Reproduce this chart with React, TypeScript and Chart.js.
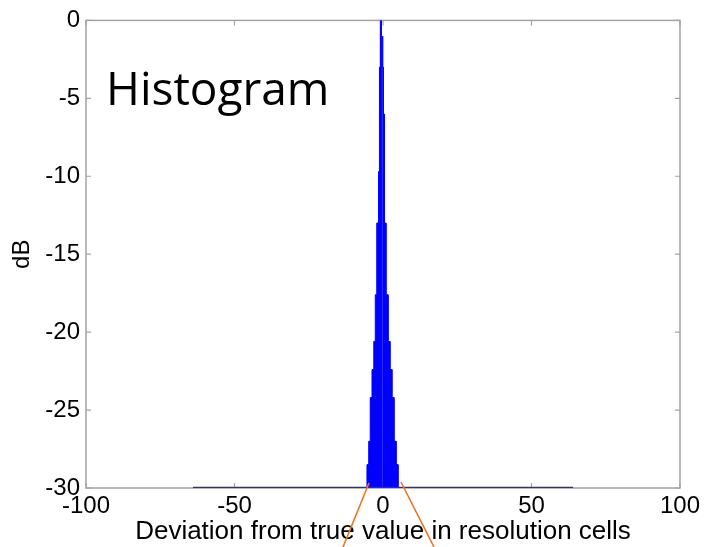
import React, { useEffect, useRef } from "react";
import { Chart, registerables } from "chart.js";

Chart.register(...registerables);

// ---- data ----
const xTicks = [-100, -50, 0, 50, 100];
const yTicks = [-30, -25, -20, -15, -10, -5, 0];

// left lobe of the histogram: bin edges (deviation) and level (dB) of each bin
const leftEdges = [-5.4, -4.8, -4.3, -3.7, -3.1, -2.6, -2.1, -1.5, -1.3, -1.15, -1.0, -0.85, -0.6];
const leftDb = [-28.5, -27, -24.2, -22.4, -20.6, -17.6, -13, -9.7, -6, -3, -1, 0];

// right lobe of the histogram
const rightEdges = [-0.2, -0.05, 0.15, 0.35, 0.6, 1.0, 1.7, 2.35, 3.0, 3.7, 4.4, 5.05];
const rightDb = [-1, -3, -6, -9.7, -13, -17.6, -20.6, -22.4, -24.2, -27, -28.5];

// floor line of the histogram (clipped values)
const floorX = [-64, 64];
const floorDb = [-30, -30];

const FLOOR = -30;
const FONT = '"Liberation Sans", Arial, sans-serif';

// outline of a histogram lobe (corners of each bin)
function lobe(edges: number[], db: number[]) {
  const pts: { x: number; y: number }[] = [{ x: edges[0], y: FLOOR }];
  db.forEach((y, i) => {
    pts.push({ x: edges[i], y });
    pts.push({ x: edges[i + 1], y });
  });
  pts.push({ x: edges[edges.length - 1], y: FLOOR });
  return pts;
}

const overlay = {
  id: "overlay",
  beforeDatasetsDraw(chart: any) {
    const { ctx, chartArea, scales } = chart;
    const { left, right, top, bottom } = chartArea;
    ctx.save();
    ctx.strokeStyle = "#a3a3a3";
    ctx.lineWidth = 1.5;
    ctx.strokeRect(left, top, right - left, bottom - top);
    ctx.lineWidth = 1.2;
    ctx.beginPath();
    xTicks.forEach((v) => {
      const x = scales.x.getPixelForValue(v);
      ctx.moveTo(x, bottom);
      ctx.lineTo(x, bottom - 5);
      ctx.moveTo(x, top);
      ctx.lineTo(x, top + 5);
    });
    yTicks.forEach((v) => {
      const y = scales.y.getPixelForValue(v);
      ctx.moveTo(left, y);
      ctx.lineTo(left + 5, y);
      ctx.moveTo(right, y);
      ctx.lineTo(right - 5, y);
    });
    ctx.stroke();
    ctx.restore();
  },
  afterDraw(chart: any) {
    const { ctx, chartArea } = chart;
    ctx.save();
    ctx.fillStyle = "#000";
    ctx.font = '46px "Open Sans", "Noto Sans", sans-serif';
    ctx.textBaseline = "alphabetic";
    ctx.textAlign = "left";
    ctx.fillText("Histogram", chartArea.left + 20, 105);
    // orange call-out lines
    ctx.strokeStyle = "#ef7420";
    ctx.lineWidth = 1.6;
    ctx.beginPath();
    ctx.moveTo(369, 483);
    ctx.lineTo(343, 547);
    ctx.moveTo(401, 482);
    ctx.lineTo(434, 547);
    ctx.stroke();
    ctx.restore();
  },
};

export default function App() {
  const ref = useRef<HTMLCanvasElement | null>(null);

  useEffect(() => {
    if (!ref.current) return;
    const blue = "#0000ff";
    const chart = new Chart(ref.current, {
      type: "line",
      data: {
        datasets: [
          {
            data: lobe(leftEdges, leftDb),
            fill: { value: FLOOR },
            backgroundColor: blue,
            borderColor: blue,
            borderWidth: 1,
            pointRadius: 0,
            tension: 0,
            order: 2,
          },
          {
            data: lobe(rightEdges, rightDb),
            fill: { value: FLOOR },
            backgroundColor: blue,
            borderColor: blue,
            borderWidth: 1,
            pointRadius: 0,
            tension: 0,
            order: 2,
          },
          {
            data: floorX.map((x, i) => ({ x, y: floorDb[i] })),
            borderColor: "#2a2ab0",
            borderWidth: 2.4,
            pointRadius: 0,
            fill: false,
            order: 1,
          },
        ],
      },
      options: {
        animation: false,
        responsive: false,
        events: [],
        layout: { padding: { top: 19, right: 24, left: 0, bottom: 0 } },
        plugins: { legend: { display: false }, tooltip: { enabled: false } },
        scales: {
          x: {
            type: "linear",
            min: -100,
            max: 100,
            grid: { display: false, drawTicks: false },
            border: { display: false },
            afterBuildTicks: (s: any) => {
              s.ticks = xTicks.map((v) => ({ value: v }));
            },
            afterFit: (s: any) => {
              s.height = 59;
            },
            ticks: {
              padding: 4,
              color: "#000",
              font: { family: FONT, size: 24 },
              maxRotation: 0,
            },
            title: {
              display: true,
              text: "Deviation from true value in resolution cells",
              color: "#000",
              font: { family: FONT, size: 26, lineHeight: 1.2 },
              padding: { top: 0, bottom: 0 },
            },
          },
          y: {
            type: "linear",
            min: -30,
            max: 0,
            grid: { display: false, drawTicks: false },
            border: { display: false },
            afterBuildTicks: (s: any) => {
              s.ticks = yTicks.map((v) => ({ value: v }));
            },
            afterFit: (s: any) => {
              s.width = 86;
            },
            ticks: {
              padding: 6,
              color: "#000",
              font: { family: FONT, size: 24 },
            },
            title: {
              display: true,
              text: "dB",
              color: "#000",
              font: { family: FONT, size: 24, lineHeight: 1.2 },
              padding: { top: 8, bottom: 0 },
            },
          },
        },
      },
      plugins: [overlay],
    });
    return () => chart.destroy();
  }, []);

  return (
    <div style={{ position: "fixed", left: 0, top: 0, width: 704, height: 547, background: "#fff" }}>
      <canvas ref={ref} width={704} height={547} />
    </div>
  );
}
